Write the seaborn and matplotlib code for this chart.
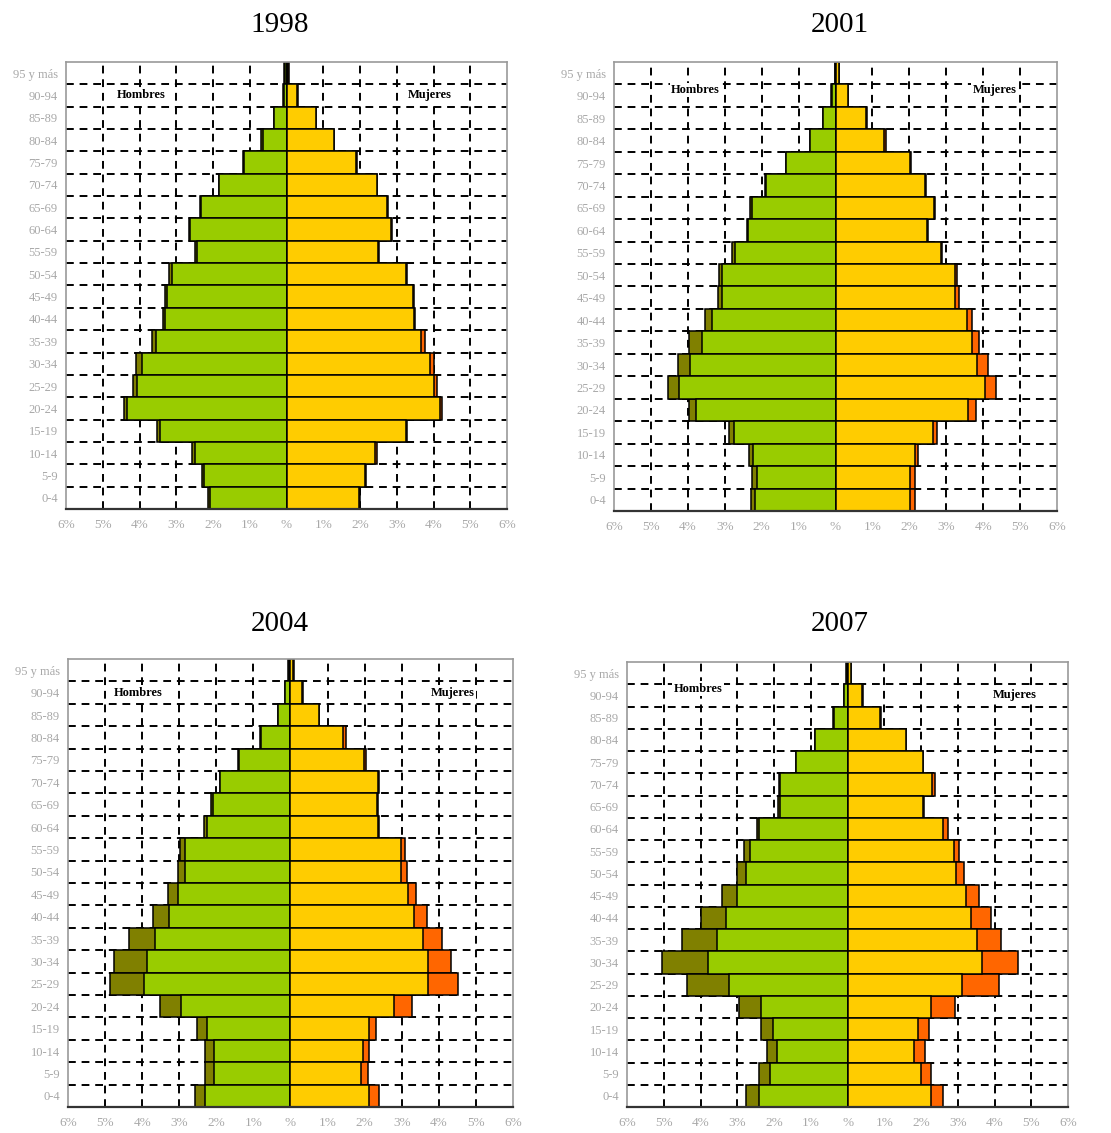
import numpy as np
import pandas as pd
import matplotlib
matplotlib.use("Agg")
import matplotlib.pyplot as plt
import seaborn as sns

ages = ["0-4", "5-9", "10-14", "15-19", "20-24", "25-29", "30-34", "35-39",
        "40-44", "45-49", "50-54", "55-59", "60-64", "65-69", "70-74",
        "75-79", "80-84", "85-89", "90-94", "95 y más"]
years = ["1998", "2001", "2004", "2007"]

# % of population, natives (nat) and foreigners (ext), young -> old
men_nat_1998 = [2.07, 2.24, 2.50, 3.43, 4.34, 4.08, 3.93, 3.54, 3.30, 3.25,
                3.12, 2.44, 2.63, 2.33, 1.83, 1.17, 0.63, 0.33, 0.08, 0.03]
men_ext_1998 = [0.06, 0.05, 0.06, 0.09, 0.08, 0.11, 0.17, 0.11, 0.06, 0.05,
                0.07, 0.06, 0.03, 0.02, 0.02, 0.01, 0.06, 0.01, 0.01, 0.03]
wom_nat_1998 = [1.96, 2.14, 2.42, 3.25, 4.17, 4.01, 3.90, 3.66, 3.46, 3.43,
                3.25, 2.50, 2.84, 2.74, 2.46, 1.90, 1.29, 0.79, 0.29, 0.05]
wom_ext_1998 = [0.04, 0.02, 0.04, 0.04, 0.06, 0.09, 0.11, 0.11, 0.04, 0.03,
                0.04, 0.02, 0.02, 0.01, 0.01, 0.01, 0.01, 0.01, 0.01, 0.02]

men_nat_2001 = [2.17, 2.14, 2.23, 2.74, 3.78, 4.23, 3.93, 3.63, 3.35, 3.07,
                3.07, 2.72, 2.37, 2.27, 1.88, 1.33, 0.69, 0.33, 0.10, 0.01]
men_ext_2001 = [0.12, 0.12, 0.12, 0.15, 0.20, 0.31, 0.35, 0.33, 0.19, 0.12,
                0.08, 0.08, 0.04, 0.06, 0.02, 0.01, 0.01, 0.01, 0.01, 0.01]
wom_nat_2001 = [2.03, 2.03, 2.14, 2.64, 3.60, 4.05, 3.84, 3.69, 3.55, 3.24,
                3.23, 2.86, 2.48, 2.68, 2.42, 2.03, 1.32, 0.83, 0.33, 0.09]
wom_ext_2001 = [0.12, 0.12, 0.10, 0.10, 0.20, 0.31, 0.30, 0.20, 0.14, 0.11,
                0.05, 0.03, 0.02, 0.01, 0.04, 0.01, 0.04, 0.01, 0.01, 0.01]

men_nat_2004 = [2.30, 2.05, 2.05, 2.25, 2.96, 3.96, 3.86, 3.66, 3.28, 3.03,
                2.84, 2.84, 2.24, 2.09, 1.89, 1.40, 0.80, 0.33, 0.15, 0.05]
men_ext_2004 = [0.27, 0.25, 0.25, 0.26, 0.55, 0.90, 0.90, 0.69, 0.43, 0.27,
                0.18, 0.15, 0.08, 0.06, 0.02, 0.01, 0.01, 0.01, 0.01, 0.03]
wom_nat_2004 = [2.13, 1.89, 1.95, 2.13, 2.80, 3.70, 3.70, 3.58, 3.34, 3.18,
                2.98, 2.98, 2.36, 2.33, 2.37, 1.98, 1.43, 0.77, 0.32, 0.06]
wom_ext_2004 = [0.27, 0.19, 0.18, 0.19, 0.49, 0.81, 0.63, 0.50, 0.34, 0.20,
                0.15, 0.12, 0.03, 0.03, 0.02, 0.06, 0.07, 0.01, 0.01, 0.03]

men_nat_2007 = [2.41, 2.11, 1.91, 2.02, 2.36, 3.22, 3.81, 3.56, 3.32, 3.02,
                2.76, 2.65, 2.40, 1.84, 1.85, 1.40, 0.88, 0.38, 0.09, 0.02]
men_ext_2007 = [0.35, 0.30, 0.29, 0.34, 0.59, 1.16, 1.23, 0.95, 0.67, 0.40,
                0.26, 0.17, 0.06, 0.06, 0.01, 0.01, 0.01, 0.01, 0.01, 0.01]
wom_nat_2007 = [2.26, 2.01, 1.81, 1.92, 2.26, 3.12, 3.67, 3.52, 3.37, 3.21,
                2.96, 2.90, 2.60, 2.05, 2.31, 2.05, 1.59, 0.89, 0.40, 0.08]
wom_ext_2007 = [0.34, 0.25, 0.29, 0.29, 0.66, 1.00, 0.97, 0.65, 0.52, 0.36,
                0.21, 0.13, 0.14, 0.02, 0.06, 0.01, 0.01, 0.01, 0.01, 0.01]

xticks = list(range(-6, 7))
xtick_labels = ["6%", "5%", "4%", "3%", "2%", "1%", "%",
                "1%", "2%", "3%", "4%", "5%", "6%"]

series = {
    "1998": (men_nat_1998, men_ext_1998, wom_nat_1998, wom_ext_1998),
    "2001": (men_nat_2001, men_ext_2001, wom_nat_2001, wom_ext_2001),
    "2004": (men_nat_2004, men_ext_2004, wom_nat_2004, wom_ext_2004),
    "2007": (men_nat_2007, men_ext_2007, wom_nat_2007, wom_ext_2007),
}

c_men, c_men_ext = "#99cc00", "#808000"
c_wom, c_wom_ext = "#ffcc00", "#ff6600"

sns.set_style("white")
plt.rcParams["font.family"] = ["Liberation Serif", "DejaVu Serif"]

fig = plt.figure(figsize=(11.11, 11.33), dpi=100)

boxes = {"1998": [0.0594, 0.5508, 0.397, 0.3945],
         "2001": [0.5527, 0.5490, 0.3987, 0.3963],
         "2004": [0.0612, 0.0229, 0.4005, 0.3954],
         "2007": [0.5644, 0.0229, 0.3970, 0.3928]}
title_pos = {"1998": (0.252, 0.978), "2001": (0.756, 0.978),
             "2004": (0.252, 0.449), "2007": (0.756, 0.449)}
# (hombres x, y, mujeres x, y) in data coords
label_pos = {"1998": (-3.95, 1.0, 3.9, 1.0),
             "2001": (-3.8, 0.75, 4.3, 0.75),
             "2004": (-4.1, 1.0, 4.37, 1.0),
             "2007": (-4.07, 0.7, 4.54, 1.0)}

order = ages[::-1]

for year in years:
    ax = fig.add_axes(boxes[year])
    men_nat, men_ext, wom_nat, wom_ext = (np.array(s) for s in series[year])
    df = pd.DataFrame({"edad": ages,
                       "men_tot": -(men_nat + men_ext),
                       "men_nat": -men_nat,
                       "wom_tot": wom_nat + wom_ext,
                       "wom_nat": wom_nat})

    for col, color in [("men_tot", c_men_ext), ("men_nat", c_men),
                       ("wom_tot", c_wom_ext), ("wom_nat", c_wom)]:
        sns.barplot(data=df, x=col, y="edad", order=order, color=color,
                    saturation=1, width=1, edgecolor="black", linewidth=1.1,
                    errorbar=None, ax=ax, zorder=2)

    # dashed grid behind bars
    for v in range(-5, 6):
        ax.axvline(v, color="black", ls=(0, (4, 3)), lw=1.4, zorder=0.5)
    for b in np.arange(0.5, len(ages) - 1, 1):
        ax.axhline(b, color="black", ls=(0, (4, 3)), lw=1.4, zorder=0.5)

    ax.set_xlim(-6, 6)
    ax.set_ylim(len(ages) - 0.5, -0.5)
    ax.set_xlabel("")
    ax.set_ylabel("")
    ax.set_xticks(xticks, xtick_labels)
    ax.tick_params(axis="x", labelsize=9.5, labelcolor="#a8a8a8", length=4,
                   width=1.2, color="#333333", direction="out", pad=3)
    ax.tick_params(axis="y", labelsize=9, labelcolor="#a8a8a8", length=0, pad=6)

    for side in ["left", "top", "right"]:
        ax.spines[side].set_color("#999999")
        ax.spines[side].set_linewidth(1.2)
    ax.spines["bottom"].set_color("#333333")
    ax.spines["bottom"].set_linewidth(1.6)

    hx, hy, mx, my = label_pos[year]
    ax.text(hx, hy, "Hombres", fontsize=9, fontweight="bold", ha="center",
            va="center", color="black", zorder=3,
            bbox=dict(facecolor="white", edgecolor="none", pad=1))
    ax.text(mx, my, "Mujeres", fontsize=9, fontweight="bold", ha="center",
            va="center", color="black", zorder=3,
            bbox=dict(facecolor="white", edgecolor="none", pad=1))

    tx, ty = title_pos[year]
    fig.text(tx, ty, year, fontsize=21, ha="center", va="center", color="black")

fig.savefig("out.png", dpi=100)
